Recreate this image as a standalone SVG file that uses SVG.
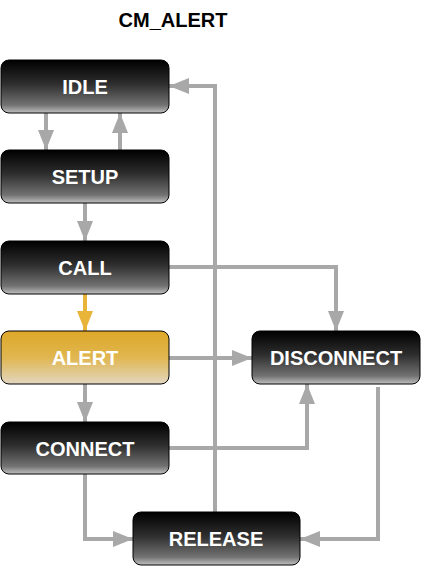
<svg xmlns="http://www.w3.org/2000/svg" width="421" height="573" viewBox="0 0 421 573">
  <style>
    .box { stroke: #000; stroke-width: 1; }
    .dark { fill: url(#gDark); }
    .alert { fill: url(#gAlert); }
    .lbl { font-family: "Liberation Sans", Arial, sans-serif; font-weight: bold; font-size: 20px; fill: #fff; text-anchor: middle; }
    .title { font-family: "Liberation Sans", Arial, sans-serif; font-weight: bold; font-size: 20px; fill: #000; text-anchor: middle; }
    .edge { fill: none; stroke: #a8a8a8; stroke-width: 4; }
    .edge.hot { stroke: #e8b43a; }
  </style>
  <defs>
    <linearGradient id="gDark" x1="0" y1="0" x2="0" y2="1">
      <stop offset="0" stop-color="#000"/>
      <stop offset="0.45" stop-color="#2e2e2e"/>
      <stop offset="0.85" stop-color="#727272"/>
      <stop offset="1" stop-color="#c0c0c0"/>
    </linearGradient>
    <linearGradient id="gAlert" x1="0" y1="0" x2="0" y2="1">
      <stop offset="0" stop-color="#dea828"/>
      <stop offset="0.5" stop-color="#e0b650"/>
      <stop offset="1" stop-color="#e2d6c0"/>
    </linearGradient>
    <marker id="ah" viewBox="0 0 20 16" refX="20" refY="8" markerWidth="20" markerHeight="16" markerUnits="userSpaceOnUse" orient="auto">
      <path d="M0,0 L20,8 L0,16 Z" fill="#a8a8a8"/>
    </marker>
    <marker id="ahHot" viewBox="0 0 20 16" refX="20" refY="8" markerWidth="20" markerHeight="16" markerUnits="userSpaceOnUse" orient="auto">
      <path d="M0,0 L20,8 L0,16 Z" fill="#e8b43a"/>
    </marker>
  </defs>

  <text class="title" x="173" y="27">CM_ALERT</text>

  <g id="connectors">
    <path class="edge" d="M46,113 V150" marker-end="url(#ah)"/>
    <path class="edge" d="M120,150 V113" marker-end="url(#ah)"/>
    <path class="edge" d="M85,203 V241" marker-end="url(#ah)"/>
    <path class="edge hot" d="M85,294 V331" marker-end="url(#ahHot)"/>
    <path class="edge" d="M85,384 V422" marker-end="url(#ah)"/>
    <path class="edge" d="M215,512 V86 H169" marker-end="url(#ah)"/>
    <path class="edge" d="M169,267 H336 V331" marker-end="url(#ah)"/>
    <path class="edge" d="M169,358 H252" marker-end="url(#ah)"/>
    <path class="edge" d="M169,448 H307 V384" marker-end="url(#ah)"/>
    <path class="edge" d="M85,474 V539 H133" marker-end="url(#ah)"/>
    <path class="edge" d="M378,387 V539 H300" marker-end="url(#ah)"/>
  </g>

  <g id="idle">
    <rect class="box dark" x="1" y="60" width="168" height="53" rx="8"/>
    <text class="lbl" x="85" y="94">IDLE</text>
  </g>
  <g id="setup">
    <rect class="box dark" x="1" y="150" width="168" height="53" rx="8"/>
    <text class="lbl" x="85" y="184">SETUP</text>
  </g>
  <g id="call">
    <rect class="box dark" x="1" y="241" width="168" height="53" rx="8"/>
    <text class="lbl" x="85" y="275">CALL</text>
  </g>
  <g id="alert">
    <rect class="box alert" x="1" y="331" width="168" height="53" rx="8"/>
    <text class="lbl" x="85" y="365">ALERT</text>
  </g>
  <g id="connect">
    <rect class="box dark" x="1" y="422" width="168" height="52" rx="8"/>
    <text class="lbl" x="85" y="456">CONNECT</text>
  </g>
  <g id="disconnect">
    <rect class="box dark" x="252" y="331" width="168" height="53" rx="8"/>
    <text class="lbl" x="336" y="365">DISCONNECT</text>
  </g>
  <g id="release">
    <rect class="box dark" x="133" y="512" width="167" height="53" rx="8"/>
    <text class="lbl" x="216" y="546">RELEASE</text>
  </g>
</svg>
